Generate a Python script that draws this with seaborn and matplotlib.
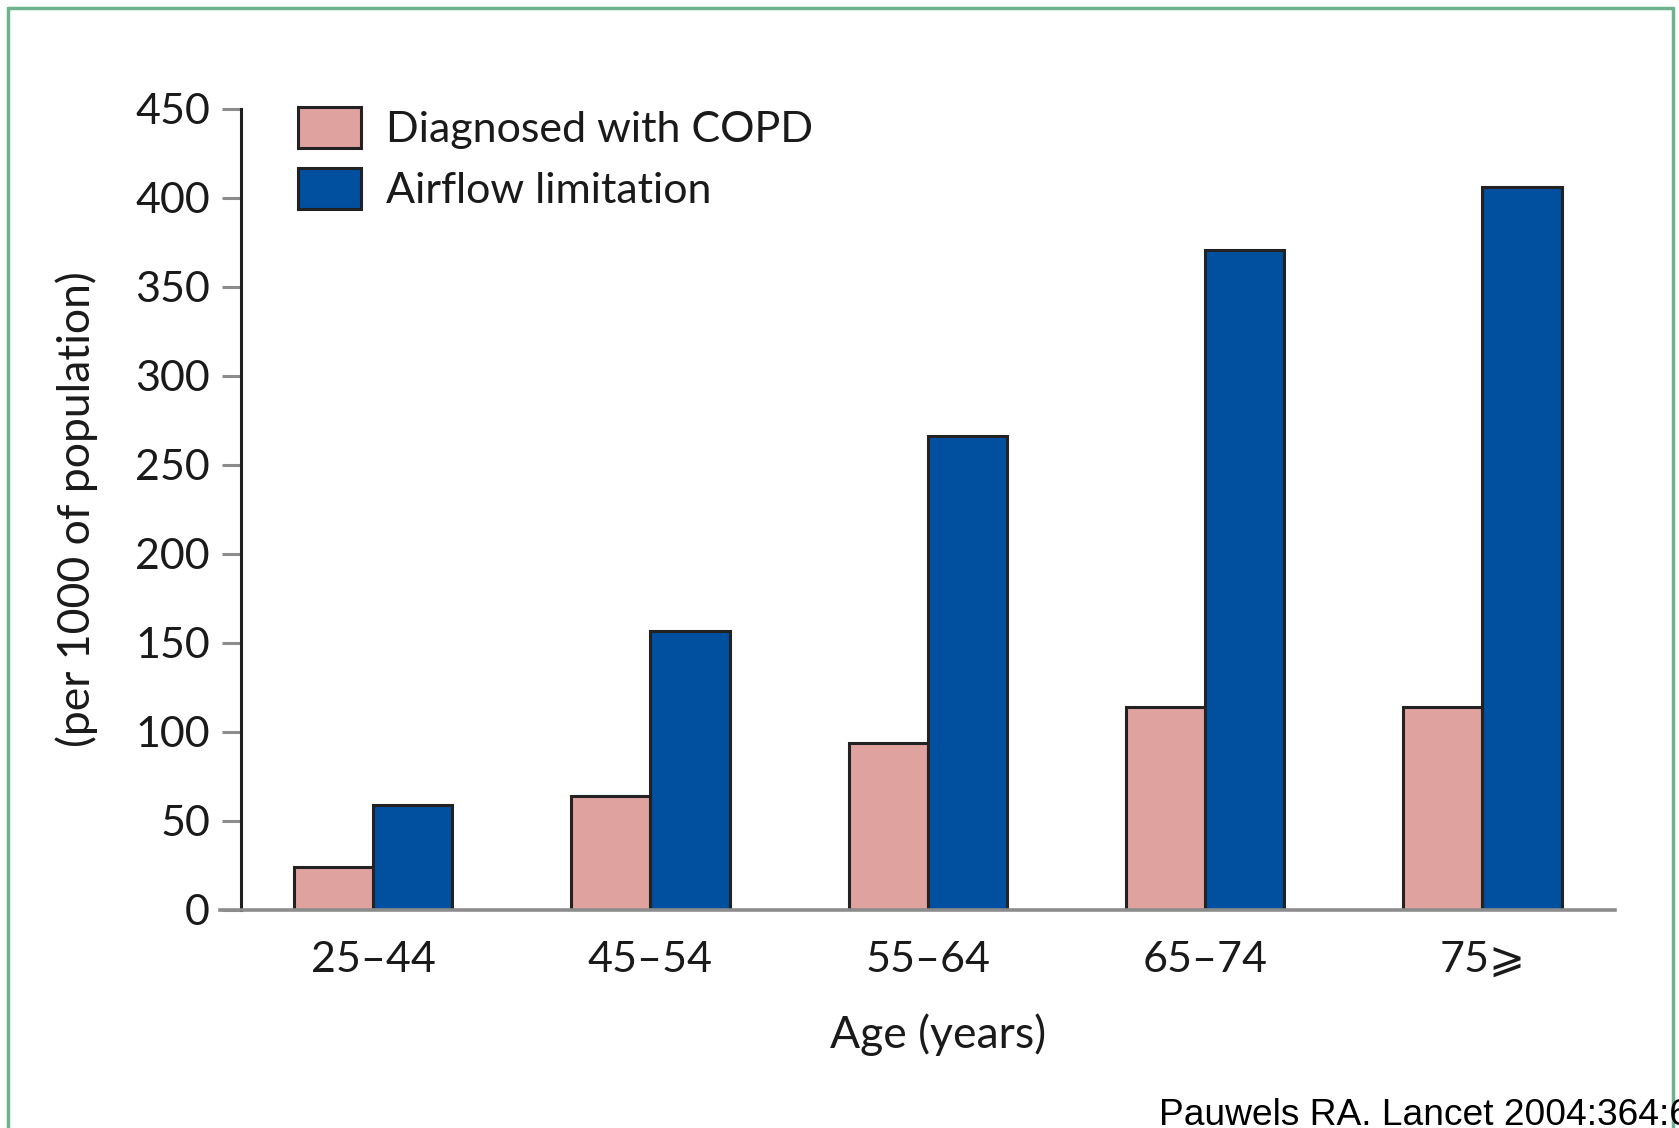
import numpy as np
import pandas as pd
import matplotlib
matplotlib.use('Agg')
import matplotlib.pyplot as plt
from matplotlib.lines import Line2D
import seaborn as sns

age_groups = ['25\u201344', '45\u201354', '55\u201364', '65\u201374', '75\u2a7e']
copd_diagnosed = [24, 64, 94, 114, 114]
airflow_limitation = [59, 157, 266, 371, 406]
series_names = ['Diagnosed with COPD', 'Airflow limitation']
y_ticks = [0, 50, 100, 150, 200, 250, 300, 350, 400, 450]

sns.set_style('white')
plt.rcParams['font.family'] = ['Lato', 'DejaVu Sans']

df = pd.DataFrame({
    'age': age_groups * 2,
    'value': copd_diagnosed + airflow_limitation,
    'series': [series_names[0]] * len(age_groups) + [series_names[1]] * len(age_groups),
})

fig = plt.figure(figsize=(16.79, 11.28), dpi=100)
ax = fig.add_axes([0.131, 0.1933, 0.831, 0.7101])

sns.barplot(data=df, x='age', y='value', hue='series', palette=['#dfa29f', '#00509f'],
            saturation=1, width=0.571, edgecolor='#222222', linewidth=2.2, ax=ax)

ax.set_xlim(-0.552, 4.479)
ax.set_ylim(0, 450)
ax.set_yticks(y_ticks)

for side in ['top', 'right']:
    ax.spines[side].set_visible(False)
ax.spines['left'].set_position(('data', -0.475))
ax.spines['left'].set_color('#1e1e1e')
ax.spines['left'].set_linewidth(2.2)
ax.spines['bottom'].set_color('#8c8c8c')
ax.spines['bottom'].set_linewidth(2.6)

fs = 31
ax.tick_params(axis='y', direction='out', length=13.5, width=2.2, color='#8c8c8c',
               pad=9, labelsize=fs, labelcolor='#1a1a1a', left=True)
ax.yaxis.get_major_ticks()[-1].tick1line.set_color('#1e1e1e')
ax.tick_params(axis='x', length=0, pad=22, labelsize=fs, labelcolor='#1a1a1a')

ax.set_xlabel('Age (years)', fontsize=32, color='#1a1a1a', labelpad=25)
ax.xaxis.label.set_x(0.515)
ax.set_ylabel('(per 1000 of population)', fontsize=32, color='#1a1a1a', labelpad=27)

ax.legend(loc='upper left', bbox_to_anchor=(298 / 1679, 1 - 107 / 1128),
          bbox_transform=fig.transFigure, frameon=False, fontsize=fs,
          borderpad=0, borderaxespad=0, handlelength=1.47, handleheight=1.08,
          handletextpad=0.57, labelspacing=0.45, labelcolor='#1a1a1a')

# citation, cut off by the figure edge as in the source
fig.text(1159 / 1679, 3 / 1128, 'Pauwels RA. Lancet 2004:364:6',
         family='Liberation Sans', fontsize=26.7, color='black',
         ha='left', va='baseline')

# green frame
frame = '#6db38e'
fig.add_artist(Line2D([8 / 1679, 8 / 1679], [0, 1 - 8 / 1128], transform=fig.transFigure, color=frame, lw=2.5))
fig.add_artist(Line2D([8 / 1679, 1673 / 1679], [1 - 8 / 1128, 1 - 8 / 1128], transform=fig.transFigure, color=frame, lw=2.5))
fig.add_artist(Line2D([1673 / 1679, 1673 / 1679], [0, 1 - 8 / 1128], transform=fig.transFigure, color=frame, lw=2.5))

fig.savefig('out.png', dpi=100, facecolor='white')
